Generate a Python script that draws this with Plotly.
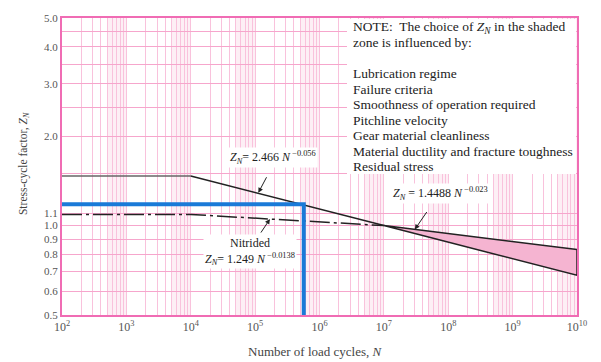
import numpy as np
import plotly.graph_objects as go

# ---- data ----
N_upper = [1e2, 1e4, 1e7]
Z_upper = [1.47, 1.47, 1.0]

N_zone = [1e7, 1e10]
Z_zone_hi = [1.0, 0.83]   # Z_N = 1.4488 N^-0.023 branch
Z_zone_lo = [1.0, 0.68]   # continuation of Z_N = 2.466 N^-0.056

N_nitr = [1e2, 1e4, 1e7]
Z_nitr = [1.09, 1.09, 1.0]

N_blue = [1e2, 5.7e5, 5.7e5]
Z_blue = [1.18, 1.18, 0.5]

x_decades = [2, 3, 4, 5, 6, 7, 8, 9, 10]
y_ticks = [0.5, 0.6, 0.7, 0.8, 0.9, 1.0, 1.1, 1.5, 2.0, 2.5, 3.0, 3.5, 4.0, 4.5, 5.0]
y_tick_labels = ["0.5", "0.6", "0.7", "0.8", "0.9", "1.0", "1.1", "", "2.0", "", "3.0", "", "4.0", "", "5.0"]

note_lines = [
    "NOTE:  The choice of <i>Z<sub>N</sub></i> in the shaded",
    "zone is influenced by:",
    None,
    "Lubrication regime",
    "Failure criteria",
    "Smoothness of operation required",
    "Pitchline velocity",
    "Gear material cleanliness",
    "Material ductility and fracture toughness",
    "Residual stress",
]

PINK = "#f06cb4"
GRID = "#f9c2dc"
BAND = "rgba(248,190,215,0.25)"
SERIF = "Liberation Serif"

# plot-area pixel geometry (for placing texts)
L, R, T, B = 62, 577, 14, 315
W, H = R - L, B - T
def px(x):
    return (x - L) / W
def py(y):
    return (B - y) / H

# x ticks incl. minor positions (for the grid)
x_tickvals, x_ticktext = [], []
for d in x_decades:
    x_tickvals.append(10.0 ** d)
    x_ticktext.append("10<sup>%d</sup>" % d)
    if d < 10:
        for m in range(2, 10):
            x_tickvals.append(m * 10.0 ** d)
            x_ticktext.append("")

fig = go.Figure()

# shaded zone
fig.add_trace(go.Scatter(
    x=N_zone + N_zone[::-1], y=Z_zone_hi + Z_zone_lo[::-1],
    mode="lines", fill="toself", fillcolor="#f5b4d1",
    line=dict(color="#222", width=1.5), hoverinfo="skip", showlegend=False))

# upper curve: flat part (grey) and sloped part (black)
fig.add_trace(go.Scatter(x=N_upper[:2], y=Z_upper[:2], mode="lines",
                         line=dict(color="#666", width=1.5), showlegend=False))
fig.add_trace(go.Scatter(x=N_upper[1:], y=Z_upper[1:], mode="lines",
                         line=dict(color="#222", width=1.5), showlegend=False))
fig.add_trace(go.Scatter(x=N_nitr, y=Z_nitr, mode="lines",
                         line=dict(color="#222", width=1.5, dash="20px,4px,3px,4px"),
                         showlegend=False))
fig.add_trace(go.Scatter(x=N_blue, y=Z_blue, mode="lines",
                         line=dict(color="#1a7ad8", width=4), showlegend=False))

# light bands in the grid (5..10 of each decade)
shapes = []
for d in x_decades[:-1]:
    shapes.append(dict(type="rect", xref="paper", yref="paper",
                       x0=(np.log10(5 * 10.0 ** d) - 2) / 8, x1=(d + 1 - 2) / 8,
                       y0=0, y1=1, fillcolor=BAND, line=dict(width=0), layer="below"))
# white box behind the NOTE text (drawn above grid and traces)
shapes.append(dict(type="rect", xref="paper", yref="paper",
                   x0=px(347), x1=px(576), y0=py(172), y1=py(15),
                   fillcolor="rgb(255,255,255)", opacity=1, line=dict(width=0),
                   layer="above"))

annotations = []
# NOTE block, one line at a time
line_y = 23.5
for i, t in enumerate(note_lines):
    if t is not None:
        annotations.append(dict(xref="paper", yref="paper", x=px(351), y=py(line_y),
                                xanchor="left", yanchor="middle", align="left",
                                text=t, showarrow=False,
                                font=dict(family=SERIF, size=13.5, color="#222")))
    line_y += 15.7

# equation labels
annotations.append(dict(x=5.28, y=np.log10(1.70), xref="x", yref="y",
                        text="<i>Z<sub>N</sub></i>= 2.466 <i>N</i><sup> −0.056</sup>",
                        showarrow=False, bgcolor="white",
                        font=dict(family=SERIF, size=12, color="#222")))
annotations.append(dict(x=7.88, y=np.log10(1.28), xref="x", yref="y",
                        text="<i>Z<sub>N</sub></i> = 1.4488 <i>N</i><sup> −0.023</sup>",
                        showarrow=False, bgcolor="white",
                        font=dict(family=SERIF, size=12, color="#222")))
annotations.append(dict(x=4.92, y=np.log10(0.815), xref="x", yref="y",
                        text="Nitrided<br><i>Z<sub>N</sub></i>= 1.249 <i>N</i><sup> −0.0138</sup>",
                        showarrow=False, bgcolor="white",
                        font=dict(family=SERIF, size=12, color="#222")))
# arrows
for (lx, vy, ax, ay) in [(5.05, 1.29, 9, -17), (7.48, 0.97, 13, -19), (5.23, 1.052, -10, 15)]:
    annotations.append(dict(x=lx, y=np.log10(vy), xref="x", yref="y", text="",
                            showarrow=True, arrowhead=2, arrowsize=1, arrowwidth=1,
                            arrowcolor="#222", ax=ax, ay=ay))

# axis titles
annotations.append(dict(xref="paper", yref="paper", x=px(315), y=py(352),
                        xanchor="center", yanchor="middle", showarrow=False,
                        text="Number of load cycles, <i>N</i>",
                        font=dict(family=SERIF, size=13, color="#444")))
annotations.append(dict(xref="paper", yref="paper", x=px(24), y=py(162),
                        xanchor="center", yanchor="middle", showarrow=False,
                        textangle=-90, text="Stress-cycle factor, <i>Z<sub>N</sub></i>",
                        font=dict(family=SERIF, size=11.5, color="#444")))

fig.update_layout(
    width=601, height=362,
    margin=dict(l=L, r=601 - R, t=T, b=362 - B),
    paper_bgcolor="white", plot_bgcolor="white",
    font=dict(family=SERIF, size=11, color="#555"),
    shapes=shapes, annotations=annotations,
    xaxis=dict(type="log", range=[2, 10], tickvals=x_tickvals, ticktext=x_ticktext,
               showgrid=True, gridcolor=GRID, gridwidth=1, zeroline=False,
               showline=True, linecolor=PINK, linewidth=2, mirror=True, ticks="",
               tickfont=dict(family=SERIF, size=12, color="#555")),
    yaxis=dict(type="log", range=[np.log10(0.5), np.log10(5)], tickvals=y_ticks,
               ticktext=y_tick_labels, showgrid=True, gridcolor="#f6a6cc", gridwidth=1,
               zeroline=False, showline=True, linecolor=PINK, linewidth=2, mirror=True,
               ticks="", tickfont=dict(family=SERIF, size=11, color="#555")),
)

fig.write_html("out.html")
